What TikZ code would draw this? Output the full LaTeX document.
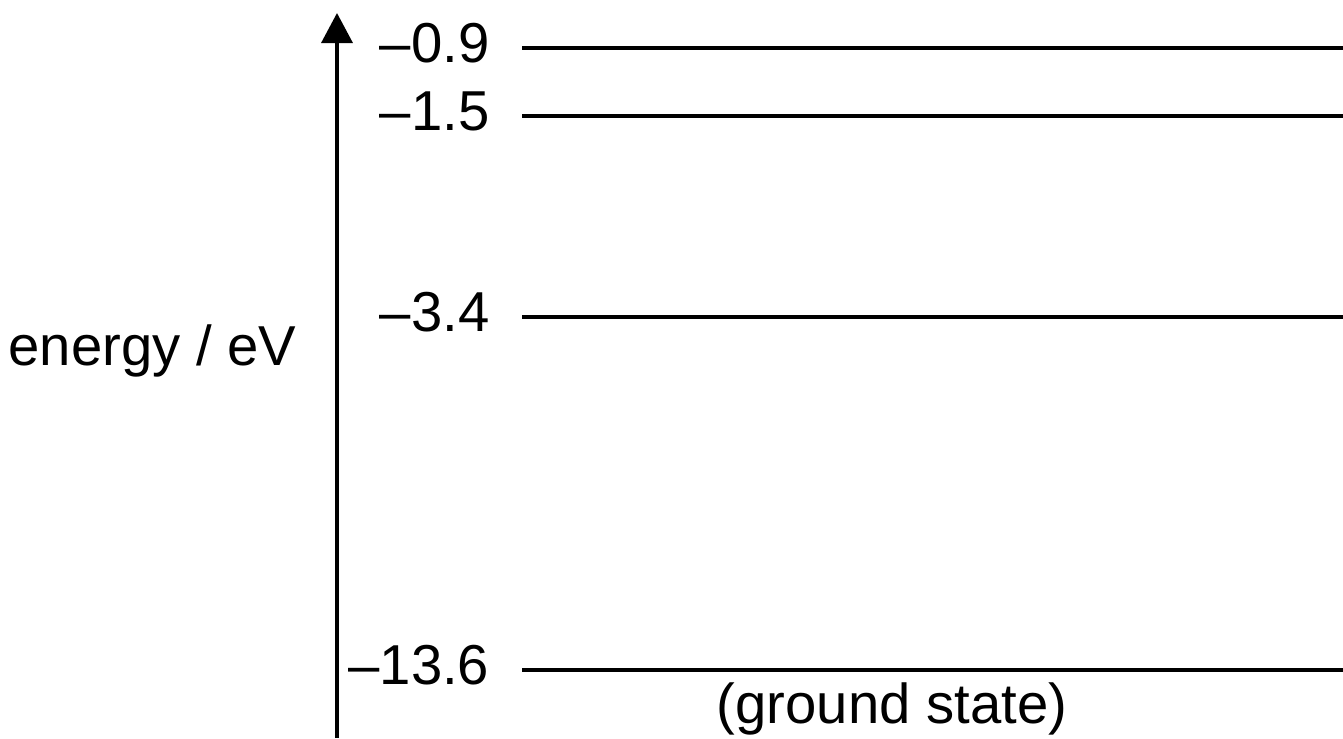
\documentclass[tikz,border=0pt]{standalone}
\usepackage{fontspec}
\setmainfont{Liberation Sans}
\usetikzlibrary{arrows.meta}
\begin{document}
\begin{tikzpicture}[x=0.01cm,y=-0.01cm,every node/.style={font=\fontsize{16}{19}\selectfont,inner sep=0pt},
        level/.style={line width=1pt},
        lbl/.style={anchor=base east}]
        \useasboundingbox (0,0) rectangle (1343,738);
        % energy axis
        \coordinate (axbot) at (337,738);
        \coordinate (axtop) at (337,13);
        \draw[line width=1pt,-{Triangle[length=0.3cm,width=0.31cm]}] (axbot) -- (axtop);
        \node[anchor=base east] (ylab) at (297,365) {energy / eV};
        % levels
        \foreach \e/\y/\n in {0.9/48/a,1.5/116/b,3.4/317/c,13.6/670/d} {
                \coordinate (l\n) at (522,\y);
                \coordinate (r\n) at (1343,\y);
                \draw[level] (l\n) -- (r\n);
                \node[lbl] (e\n) at (490,\y+14) {–\e};
            }
        \node (gs) at (892,709) {(ground state)};
    \end{tikzpicture}
\end{document}
